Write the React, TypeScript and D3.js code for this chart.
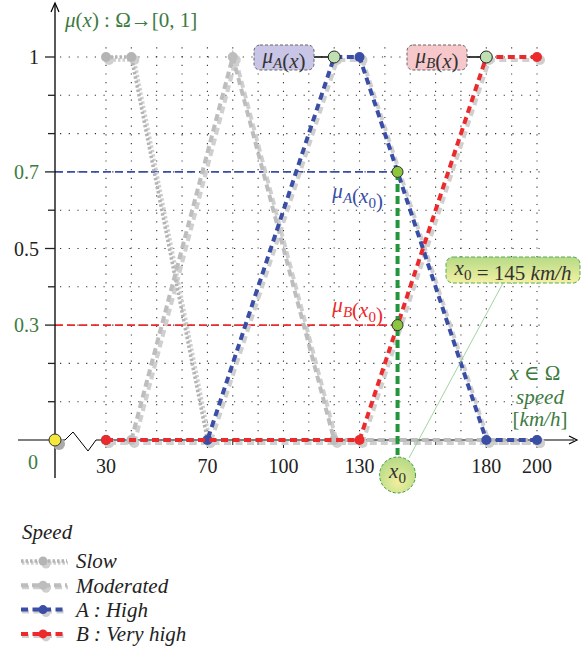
import React from "react";
import * as d3 from "d3";

const slowX = [30, 40, 70];
const slowY = [1, 1, 0];
const modX = [40, 80, 120, 200];
const modY = [0, 1, 0, 0];
const highX = [30, 70, 120, 130, 180, 200];
const highY = [0, 0, 1, 1, 0, 0];
const vhighX = [30, 130, 180, 200];
const vhighY = [0, 0, 1, 1];
const xTickLabels = [30, 70, 100, 130, 180, 200];
const yTickLabels = [0.3, 0.5, 0.7, 1];
const x0Value = 145;
const muA = 0.7;
const muB = 0.3;
const legendLabels = ["Slow", "Moderated", "A : High", "B : Very high"];

const FONT = "'Liberation Serif', 'DejaVu Serif', serif";
const GREEN = "#3d7b3f";
const BLUE = "#3a4ea6";
const RED = "#ec2a2c";
const SH = "#cfcfcf";

const xs = d3.scaleLinear().domain([30, 200]).range([106, 537]);
const xPos = (v: number) => (v === 0 ? 55 : xs(v));
const y = d3.scaleLinear().domain([0, 1]).range([440, 57]);

type S = { xv: number[]; yv: number[]; color: string; dash: string; shadowDash: string; width: number };
const series: S[] = [
  { xv: slowX, yv: slowY, color: "#b4b4b4", dash: "2.5 2", shadowDash: "2.5 2", width: 3.5 },
  { xv: modX, yv: modY, color: "#bdbdbd", dash: "7 4", shadowDash: "7 4", width: 4 },
  { xv: highX, yv: highY, color: BLUE, dash: "7 4.5", shadowDash: "7 4.5", width: 4 },
  { xv: vhighX, yv: vhighY, color: RED, dash: "7 4.5", shadowDash: "7 4.5", width: 4 },
];

const line = d3.line<[number, number]>().x((d) => xPos(d[0])).y((d) => y(d[1]));

function Sub({ base, sub, italicSub = true }: { base: string; sub: string; italicSub?: boolean }) {
  return (
    <>
      <tspan fontStyle="italic">{base}</tspan>
      <tspan fontStyle={italicSub ? "italic" : "normal"} fontSize="0.72em" dy="5">{sub}</tspan>
      <tspan dy="-5"></tspan>
    </>
  );
}

export default function App() {
  const gridXs = d3.range(30, 201, 10);
  const gridYs = d3.range(1, 11).map((d) => d / 10);
  const pts = (s: S) => s.xv.map((v, i) => [v, s.yv[i]] as [number, number]);

  return (
    <svg width={584} height={648} style={{ position: "absolute", left: 0, top: 0, background: "#fff" }} fontFamily={FONT}>
      <defs>
        <linearGradient id="gbox" x1="0" y1="0" x2="0" y2="1">
          <stop offset="0" stopColor="#b6da86" />
          <stop offset="1" stopColor="#f3f1a2" />
        </linearGradient>
        <radialGradient id="gcirc" cx="0.5" cy="0.7" r="0.7">
          <stop offset="0" stopColor="#f0ef9e" />
          <stop offset="1" stopColor="#b3d985" />
        </radialGradient>
      </defs>

      {/* grid */}
      {gridXs.map((v) => (
        <line key={"gx" + v} x1={xs(v)} x2={xs(v)} y1={y(0)} y2={y(1.04)} stroke="#333" strokeWidth={1.1} strokeDasharray="1.2 7.5" />
      ))}
      {gridYs.map((v) => (
        <line key={"gy" + v} x1={60} x2={xs(201)} y1={y(v)} y2={y(v)} stroke="#333" strokeWidth={1.1} strokeDasharray="1.2 7.5" />
      ))}

      {/* reference lines */}
      <line x1={55} x2={xs(x0Value)} y1={y(muA)} y2={y(muA)} stroke={BLUE} strokeWidth={1.6} strokeDasharray="8 4" />
      <line x1={55} x2={xs(x0Value)} y1={y(muB)} y2={y(muB)} stroke={RED} strokeWidth={1.6} strokeDasharray="8 4" />

      {/* axes */}
      <line x1={18} x2={65} y1={y(0)} y2={y(0)} stroke="#000" strokeWidth={1.2} />
      <polyline points={`65,440 73,432 88,451 96,440`} fill="none" stroke="#000" strokeWidth={1} />
      <line x1={96} x2={574} y1={y(0)} y2={y(0)} stroke="#000" strokeWidth={1.2} />
      <path d="M569,436 L577,440 L569,444" fill="none" stroke="#000" strokeWidth={1.2} />
      <line x1={55} x2={55} y1={478} y2={4} stroke="#000" strokeWidth={1.3} />
      <path d="M51,12 L55,3 L59,12" fill="none" stroke="#000" strokeWidth={1.2} />
      {gridYs.map((v) => {
        const major = yTickLabels.includes(v);
        return <line key={"yt" + v} x1={major ? 45 : 48} x2={55} y1={y(v)} y2={y(v)} stroke="#222" strokeWidth={1.3} />;
      })}
      {gridXs.map((v) => (
        <line key={"xt" + v} x1={xs(v)} x2={xs(v)} y1={440} y2={xTickLabels.includes(v) ? 448 : 445} stroke="#222" strokeWidth={1} />
      ))}

      {/* y labels */}
      {yTickLabels.map((v) => (
        <text key={"yl" + v} x={39} y={y(v)} dy="0.35em" textAnchor="end" fontSize={20} fill={v === muA || v === muB ? GREEN : "#222"}>
          {v === 1 ? "1" : String(v)}
        </text>
      ))}
      <text x={33} y={462} dy="0.35em" textAnchor="middle" fontSize={20} fill={GREEN}>0</text>
      {xTickLabels.map((v) => (
        <text key={"xl" + v} x={xs(v)} y={466} dy="0.35em" textAnchor="middle" fontSize={20} fill="#222">{v}</text>
      ))}
      <text x={65} y={20} dy="0.35em" fontSize={21} fill={GREEN}>
        <tspan fontStyle="italic">μ</tspan>(<tspan fontStyle="italic">x</tspan>) : Ω→[0, 1]
      </text>

      {/* series shadows */}
      {series.map((s, i) => (
        <g key={"sh" + i} transform="translate(3,3)">
          <path d={line(pts(s)) || ""} fill="none" stroke={SH} strokeWidth={s.width} strokeDasharray={s.shadowDash} />
          {pts(s).map((p, j) => (
            <circle key={j} cx={xPos(p[0])} cy={y(p[1])} r={5} fill={SH} />
          ))}
        </g>
      ))}
      {/* series */}
      {series.map((s, i) => (
        <g key={"s" + i}>
          <path d={line(pts(s)) || ""} fill="none" stroke={s.color} strokeWidth={s.width} strokeDasharray={s.dash} />
          {pts(s).map((p, j) => (
            <circle key={j} cx={xPos(p[0])} cy={y(p[1])} r={5} fill={s.color} />
          ))}
        </g>
      ))}

      {/* origin */}
      <circle cx={59} cy={444} r={6} fill="#aaa" />
      <circle cx={55} cy={440} r={6} fill="#f6e83a" stroke="#333" strokeWidth={1} />

      {/* x0 vertical */}
      <line x1={xs(x0Value)} x2={xs(x0Value)} y1={y(muA)} y2={455} stroke="#22963a" strokeWidth={4} strokeDasharray="8 4" />
      <circle cx={xs(x0Value)} cy={y(muA)} r={5.5} fill="#8cc63f" stroke="#333" strokeWidth={1} />
      <circle cx={xs(x0Value)} cy={y(muB)} r={5.5} fill="#8cc63f" stroke="#333" strokeWidth={1} />

      {/* callouts top */}
      <line x1={314} x2={xs(120)} y1={y(1)} y2={y(1)} stroke="#111" strokeWidth={1.6} />
      <rect x={254} y={45} width={60} height={25} rx={6} fill="#c9c5e7" stroke="#666" strokeWidth={1} strokeDasharray="3 2" />
      <text x={284} y={56} dy="0.35em" textAnchor="middle" fontSize={21} fill="#333">
        <Sub base="μ" sub="A" />(<tspan fontStyle="italic">x</tspan>)
      </text>
      <circle cx={xs(120)} cy={y(1)} r={6} fill="#bfe0b0" stroke="#222" strokeWidth={1} />

      <line x1={467} x2={xs(180)} y1={y(1)} y2={y(1)} stroke="#111" strokeWidth={1.6} />
      <rect x={407} y={45} width={60} height={25} rx={6} fill="#f6c8cb" stroke="#666" strokeWidth={1} strokeDasharray="3 2" />
      <text x={437} y={56} dy="0.35em" textAnchor="middle" fontSize={21} fill="#333">
        <Sub base="μ" sub="B" />(<tspan fontStyle="italic">x</tspan>)
      </text>
      <circle cx={xs(180)} cy={y(1)} r={6} fill="#bfe0b0" stroke="#222" strokeWidth={1} />

      {/* mu(x0) labels */}
      <text x={383} y={191} dy="0.35em" textAnchor="end" fontSize={21} fill={BLUE}>
        <Sub base="μ" sub="A" />(<Sub base="x" sub="0" italicSub={false} />)
      </text>
      <text x={383} y={305} dy="0.35em" textAnchor="end" fontSize={21} fill={RED}>
        <Sub base="μ" sub="B" />(<Sub base="x" sub="0" italicSub={false} />)
      </text>

      {/* x0 annotation */}
      <line x1={503} y1={283} x2={409} y2={458} stroke="#8cc98c" strokeWidth={0.8} />
      <rect x={446} y={257} width={134} height={26} rx={7} fill="url(#gbox)" stroke="#5aa85a" strokeWidth={1} strokeDasharray="4 2" />
      <text x={513} y={268} dy="0.35em" textAnchor="middle" fontSize={21} fill="#333">
        <Sub base="x" sub="0" italicSub={false} /> = 145 <tspan fontStyle="italic">km/h</tspan>
      </text>
      <circle cx={xs(x0Value)} cy={475} r={18} fill="url(#gcirc)" stroke="#3f9a45" strokeWidth={1} strokeDasharray="3 2" />
      <text x={xs(x0Value)} y={471} dy="0.35em" textAnchor="middle" fontSize={21} fill="#333">
        <Sub base="x" sub="0" italicSub={false} />
      </text>

      {/* axis name labels */}
      <text x={535} y={373} dy="0.35em" textAnchor="middle" fontSize={21} fill={GREEN}>
        <tspan fontStyle="italic">x</tspan> ∈ Ω
      </text>
      <text x={540} y={397} dy="0.35em" textAnchor="middle" fontSize={21} fill={GREEN} fontStyle="italic">speed</text>
      <text x={540} y={419} dy="0.35em" textAnchor="middle" fontSize={21} fill={GREEN}>
        [<tspan fontStyle="italic">km/h</tspan>]
      </text>

      {/* legend */}
      <text x={22} y={532} dy="0.35em" fontSize={21} fontStyle="italic" fill="#222">Speed</text>
      {series.map((s, i) => {
        const ly = 561 + i * 24.3;
        return (
          <g key={"lg" + i}>
            <line x1={22} x2={68} y1={ly + 2} y2={ly + 2} stroke={SH} strokeWidth={s.width} strokeDasharray={s.shadowDash} />
            <circle cx={46} cy={ly + 3} r={4.5} fill={SH} />
            <line x1={21} x2={67} y1={ly} y2={ly} stroke={s.color} strokeWidth={s.width} strokeDasharray={s.dash} />
            <circle cx={43} cy={ly} r={4.5} fill={s.color} />
            <text x={76} y={ly} dy="0.35em" fontSize={21} fontStyle="italic" fill="#222">{legendLabels[i]}</text>
          </g>
        );
      })}
    </svg>
  );
}
